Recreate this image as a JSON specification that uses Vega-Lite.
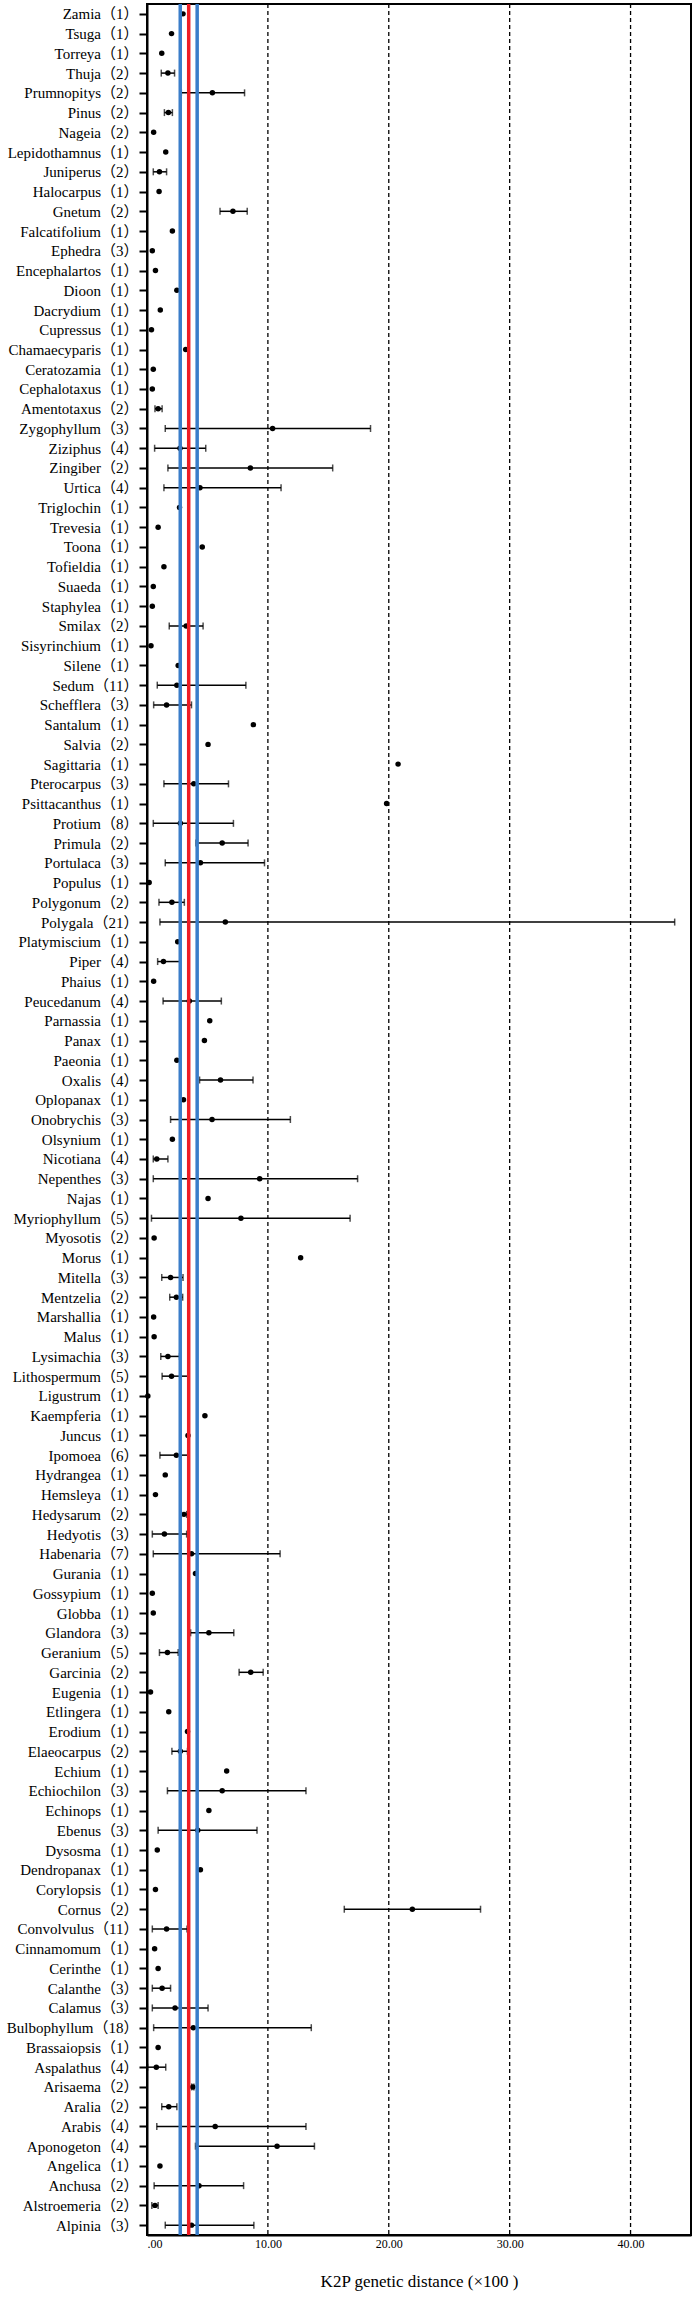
{
  "$schema": "https://vega.github.io/schema/vega-lite/v6.json",
  "autosize": {"type": "none"},
  "padding": {"left": 147, "top": 4, "right": 4, "bottom": 65},
  "width": 544,
  "height": 2231,
  "background": "white",
  "config": {
    "view": {"stroke": "black", "strokeWidth": 2},
    "font": "Liberation Serif"
  },
  "datasets": {
    "refs": [
      {"x": 2.75, "c": "blue"},
      {"x": 4.15, "c": "blue"},
      {"x": 3.45, "c": "red"}
    ],
    "grid": [{"x": 10}, {"x": 20}, {"x": 30}, {"x": 40}]
  },
  "data": {"values": [
    {"g": "Zamia（1）", "m": 2.98, "lo": null, "hi": null},
    {"g": "Tsuga（1）", "m": 2.03, "lo": null, "hi": null},
    {"g": "Torreya（1）", "m": 1.22, "lo": null, "hi": null},
    {"g": "Thuja（2）", "m": 1.73, "lo": 1.18, "hi": 2.28},
    {"g": "Prumnopitys（2）", "m": 5.41, "lo": 2.84, "hi": 8.07},
    {"g": "Pinus（2）", "m": 1.77, "lo": 1.44, "hi": 2.1},
    {"g": "Nageia（2）", "m": 0.55, "lo": null, "hi": null},
    {"g": "Lepidothamnus（1）", "m": 1.55, "lo": null, "hi": null},
    {"g": "Juniperus（2）", "m": 1.03, "lo": 0.52, "hi": 1.62},
    {"g": "Halocarpus（1）", "m": 1.0, "lo": null, "hi": null},
    {"g": "Gnetum（2）", "m": 7.11, "lo": 6.04, "hi": 8.29},
    {"g": "Falcatifolium（1）", "m": 2.1, "lo": null, "hi": null},
    {"g": "Ephedra（3）", "m": 0.44, "lo": null, "hi": null},
    {"g": "Encephalartos（1）", "m": 0.7, "lo": null, "hi": null},
    {"g": "Dioon（1）", "m": 2.47, "lo": null, "hi": null},
    {"g": "Dacrydium（1）", "m": 1.1, "lo": null, "hi": null},
    {"g": "Cupressus（1）", "m": 0.37, "lo": null, "hi": null},
    {"g": "Chamaecyparis（1）", "m": 3.2, "lo": null, "hi": null},
    {"g": "Ceratozamia（1）", "m": 0.52, "lo": null, "hi": null},
    {"g": "Cephalotaxus（1）", "m": 0.44, "lo": null, "hi": null},
    {"g": "Amentotaxus（2）", "m": 0.92, "lo": 0.66, "hi": 1.25},
    {"g": "Zygophyllum（3）", "m": 10.39, "lo": 1.51, "hi": 18.49},
    {"g": "Ziziphus（4）", "m": 2.73, "lo": 0.63, "hi": 4.86},
    {"g": "Zingiber（2）", "m": 8.55, "lo": 1.73, "hi": 15.36},
    {"g": "Urtica（4）", "m": 4.38, "lo": 1.4, "hi": 11.09},
    {"g": "Triglochin（1）", "m": 2.69, "lo": null, "hi": null},
    {"g": "Trevesia（1）", "m": 0.92, "lo": null, "hi": null},
    {"g": "Toona（1）", "m": 4.57, "lo": null, "hi": null},
    {"g": "Tofieldia（1）", "m": 1.4, "lo": null, "hi": null},
    {"g": "Suaeda（1）", "m": 0.52, "lo": null, "hi": null},
    {"g": "Staphylea（1）", "m": 0.44, "lo": null, "hi": null},
    {"g": "Smilax（2）", "m": 3.24, "lo": 1.84, "hi": 4.64},
    {"g": "Sisyrinchium（1）", "m": 0.33, "lo": null, "hi": null},
    {"g": "Silene（1）", "m": 2.58, "lo": null, "hi": null},
    {"g": "Sedum（11）", "m": 2.47, "lo": 0.85, "hi": 8.18},
    {"g": "Schefflera（3）", "m": 1.62, "lo": 0.55, "hi": 3.68},
    {"g": "Santalum（1）", "m": 8.8, "lo": null, "hi": null},
    {"g": "Salvia（2）", "m": 5.05, "lo": null, "hi": null},
    {"g": "Sagittaria（1）", "m": 20.77, "lo": null, "hi": null},
    {"g": "Pterocarpus（3）", "m": 3.87, "lo": 1.4, "hi": 6.74},
    {"g": "Psittacanthus（1）", "m": 19.82, "lo": null, "hi": null},
    {"g": "Protium（8）", "m": 2.76, "lo": 0.52, "hi": 7.15},
    {"g": "Primula（2）", "m": 6.22, "lo": 4.05, "hi": 8.36},
    {"g": "Portulaca（3）", "m": 4.42, "lo": 1.51, "hi": 9.72},
    {"g": "Populus（1）", "m": 0.18, "lo": null, "hi": null},
    {"g": "Polygonum（2）", "m": 2.06, "lo": 0.99, "hi": 3.09},
    {"g": "Polygala（21）", "m": 6.48, "lo": 1.07, "hi": 43.65},
    {"g": "Platymiscium（1）", "m": 2.54, "lo": null, "hi": null},
    {"g": "Piper（4）", "m": 1.36, "lo": 0.88, "hi": 2.73},
    {"g": "Phaius（1）", "m": 0.55, "lo": null, "hi": null},
    {"g": "Peucedanum（4）", "m": 3.5, "lo": 1.33, "hi": 6.15},
    {"g": "Parnassia（1）", "m": 5.19, "lo": null, "hi": null},
    {"g": "Panax（1）", "m": 4.75, "lo": null, "hi": null},
    {"g": "Paeonia（1）", "m": 2.47, "lo": null, "hi": null},
    {"g": "Oxalis（4）", "m": 6.08, "lo": 4.35, "hi": 8.77},
    {"g": "Oplopanax（1）", "m": 3.02, "lo": null, "hi": null},
    {"g": "Onobrychis（3）", "m": 5.38, "lo": 1.95, "hi": 11.86},
    {"g": "Olsynium（1）", "m": 2.1, "lo": null, "hi": null},
    {"g": "Nicotiana（4）", "m": 0.81, "lo": 0.52, "hi": 1.73},
    {"g": "Nepenthes（3）", "m": 9.32, "lo": 0.52, "hi": 17.42},
    {"g": "Najas（1）", "m": 5.05, "lo": null, "hi": null},
    {"g": "Myriophyllum（5）", "m": 7.77, "lo": 0.37, "hi": 16.8},
    {"g": "Myosotis（2）", "m": 0.59, "lo": null, "hi": null},
    {"g": "Morus（1）", "m": 12.71, "lo": null, "hi": null},
    {"g": "Mitella（3）", "m": 1.95, "lo": 1.22, "hi": 2.98},
    {"g": "Mentzelia（2）", "m": 2.43, "lo": 1.88, "hi": 2.95},
    {"g": "Marshallia（1）", "m": 0.55, "lo": null, "hi": null},
    {"g": "Malus（1）", "m": 0.59, "lo": null, "hi": null},
    {"g": "Lysimachia（3）", "m": 1.73, "lo": 1.14, "hi": 2.69},
    {"g": "Lithospermum（5）", "m": 2.03, "lo": 1.25, "hi": 3.39},
    {"g": "Ligustrum（1）", "m": 0.07, "lo": null, "hi": null},
    {"g": "Kaempferia（1）", "m": 4.79, "lo": null, "hi": null},
    {"g": "Juncus（1）", "m": 3.39, "lo": null, "hi": null},
    {"g": "Ipomoea（6）", "m": 2.43, "lo": 1.07, "hi": 3.39},
    {"g": "Hydrangea（1）", "m": 1.51, "lo": null, "hi": null},
    {"g": "Hemsleya（1）", "m": 0.7, "lo": null, "hi": null},
    {"g": "Hedysarum（2）", "m": 3.06, "lo": 2.84, "hi": 3.28},
    {"g": "Hedyotis（3）", "m": 1.44, "lo": 0.44, "hi": 3.28},
    {"g": "Habenaria（7）", "m": 3.68, "lo": 0.52, "hi": 11.01},
    {"g": "Gurania（1）", "m": 4.01, "lo": null, "hi": null},
    {"g": "Gossypium（1）", "m": 0.44, "lo": null, "hi": null},
    {"g": "Globba（1）", "m": 0.52, "lo": null, "hi": null},
    {"g": "Glandora（3）", "m": 5.12, "lo": 3.61, "hi": 7.18},
    {"g": "Geranium（5）", "m": 1.69, "lo": 1.03, "hi": 2.58},
    {"g": "Garcinia（2）", "m": 8.58, "lo": 7.62, "hi": 9.61},
    {"g": "Eugenia（1）", "m": 0.29, "lo": null, "hi": null},
    {"g": "Etlingera（1）", "m": 1.8, "lo": null, "hi": null},
    {"g": "Erodium（1）", "m": 3.35, "lo": null, "hi": null},
    {"g": "Elaeocarpus（2）", "m": 2.76, "lo": 2.06, "hi": 3.35},
    {"g": "Echium（1）", "m": 6.59, "lo": null, "hi": null},
    {"g": "Echiochilon（3）", "m": 6.22, "lo": 1.69, "hi": 13.15},
    {"g": "Echinops（1）", "m": 5.12, "lo": null, "hi": null},
    {"g": "Ebenus（3）", "m": 4.2, "lo": 0.92, "hi": 9.1},
    {"g": "Dysosma（1）", "m": 0.85, "lo": null, "hi": null},
    {"g": "Dendropanax（1）", "m": 4.42, "lo": null, "hi": null},
    {"g": "Corylopsis（1）", "m": 0.7, "lo": null, "hi": null},
    {"g": "Cornus（2）", "m": 21.95, "lo": 16.32, "hi": 27.59},
    {"g": "Convolvulus（11）", "m": 1.62, "lo": 0.44, "hi": 3.31},
    {"g": "Cinnamomum（1）", "m": 0.63, "lo": null, "hi": null},
    {"g": "Cerinthe（1）", "m": 0.92, "lo": null, "hi": null},
    {"g": "Calanthe（3）", "m": 1.25, "lo": 0.44, "hi": 1.95},
    {"g": "Calamus（3）", "m": 2.32, "lo": 0.44, "hi": 5.05},
    {"g": "Bulbophyllum（18）", "m": 3.83, "lo": 0.55, "hi": 13.59},
    {"g": "Brassaiopsis（1）", "m": 0.92, "lo": null, "hi": null},
    {"g": "Aspalathus（4）", "m": 0.77, "lo": 0.05, "hi": 1.55},
    {"g": "Arisaema（2）", "m": 3.79, "lo": 3.7, "hi": 3.88},
    {"g": "Aralia（2）", "m": 1.8, "lo": 1.22, "hi": 2.47},
    {"g": "Arabis（4）", "m": 5.64, "lo": 0.81, "hi": 13.15},
    {"g": "Aponogeton（4）", "m": 10.76, "lo": 4.01, "hi": 13.85},
    {"g": "Angelica（1）", "m": 1.07, "lo": null, "hi": null},
    {"g": "Anchusa（2）", "m": 4.3, "lo": 0.59, "hi": 7.99},
    {"g": "Alstroemeria（2）", "m": 0.66, "lo": 0.4, "hi": 0.92},
    {"g": "Alpinia（3）", "m": 3.68, "lo": 1.51, "hi": 8.84}
  ]},
  "encoding": {
    "y": {
      "field": "g", "type": "nominal", "sort": null,
      "scale": {"type": "point", "padding": 0.5},
      "axis": {
        "title": null, "domainColor": "black", "domainWidth": 2,
        "tickColor": "black", "tickWidth": 2, "tickSize": 8,
        "labelFont": "Liberation Serif, Noto Sans CJK TC", "labelFontSize": 15, "labelColor": "black",
        "labelPadding": 1, "grid": false
      }
    }
  },
  "layer": [
    {
      "data": {"name": "grid"},
      "mark": {"type": "rule", "color": "black", "strokeWidth": 1.3, "strokeDash": [4, 3]},
      "encoding": {"x": {"field": "x", "type": "quantitative"}, "y": null}
    },
    {
      "mark": {"type": "circle", "color": "black", "opacity": 1, "size": 30},
      "encoding": {
        "x": {
          "field": "m", "type": "quantitative",
          "scale": {"domain": [0, 45], "nice": false, "zero": true},
          "axis": {
            "title": "K2P genetic distance (×100 )",
            "titleFont": "Liberation Serif", "titleFontSize": 17, "titleFontWeight": "normal",
            "titleColor": "black", "titlePadding": 24,
            "values": [0, 10, 20, 30, 40],
            "labelExpr": "datum.value == 0 ? '.00' : format(datum.value, '.2f')",
            "labelFont": "Liberation Serif", "labelFontSize": 12, "labelColor": "black",
            "labelPadding": 3, "ticks": false, "tickSize": 0,
            "domainColor": "black", "domainWidth": 2, "grid": false
          }
        }
      }
    },
    {
      "transform": [{"filter": "datum.lo != null"}],
      "mark": {"type": "rule", "color": "black", "strokeWidth": 1.5},
      "encoding": {
        "x": {"field": "lo", "type": "quantitative"},
        "x2": {"field": "hi"}
      }
    },
    {
      "transform": [{"filter": "datum.lo != null"}],
      "mark": {"type": "tick", "color": "black", "thickness": 1.5, "size": 7, "orient": "vertical"},
      "encoding": {"x": {"field": "lo", "type": "quantitative"}}
    },
    {
      "transform": [{"filter": "datum.lo != null"}],
      "mark": {"type": "tick", "color": "black", "thickness": 1.5, "size": 7, "orient": "vertical"},
      "encoding": {"x": {"field": "hi", "type": "quantitative"}}
    },
    {
      "data": {"name": "refs"},
      "mark": {"type": "rule", "strokeWidth": 3.5},
      "encoding": {
        "x": {"field": "x", "type": "quantitative"},
        "y": null,
        "color": {"field": "c", "type": "nominal", "scale": {"domain": ["blue", "red"], "range": ["#3a7dc9", "#ee1c24"]}, "legend": null}
      }
    }
  ]
}
